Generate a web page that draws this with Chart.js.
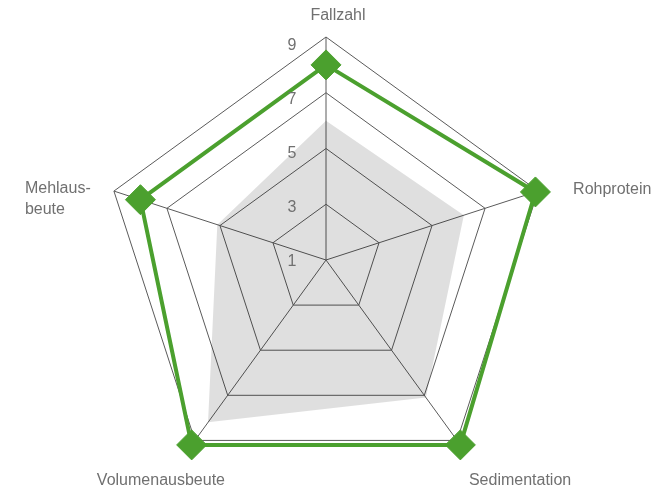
<!DOCTYPE html>
<html>
<head>
<meta charset="utf-8">
<script src="https://cdn.jsdelivr.net/npm/chart.js@4/dist/chart.umd.min.js"></script>
<style>
  body { margin: 0; background: #fff; }
  canvas { display: block; }
</style>
</head>
<body>
<canvas id="radar" width="668" height="492"></canvas>
<script>
// axes (clockwise from top)
const CATEGORIES = ["Fallzahl", "Rohprotein", "Sedimentation", "Volumenausbeute", ["Mehlaus-", "beute"]];
const GREEN_VALUES = [8, 8.9, 9.2, 9.2, 8];
const GRAY_VALUES = [6, 6.2, 7.1, 8.2, 5.1];
const TICK_VALUES = [1, 3, 5, 7, 9];

const GREEN = '#4ba02e';
const GRID = '#5a5a5a';
const TEXT = '#707070';
const FONT = '16px "Liberation Sans", Arial, sans-serif';

// where each axis title sits, relative to the outer corner of that axis
const LABEL_OFFSETS = [
    {dx: 12, dy: -21, align: 'center'},
    {dx: 35, dy: -1, align: 'left'},
    {dx: 63, dy: 40, align: 'center'},
    {dx: -34, dy: 40, align: 'center'},
    {dx: -89, dy: -2, align: 'left'}
];

// draws tick numbers and axis titles ourselves (chart.js only centers them)
const labelPlugin = {
    id: 'labels',
    afterDraw(chart) {
        const scale = chart.scales.r;
        const ctx = chart.ctx;
        ctx.save();
        ctx.font = FONT;
        ctx.fillStyle = TEXT;
        ctx.textBaseline = 'middle';

        ctx.textAlign = 'center';
        for (let i = 0; i < TICK_VALUES.length; i++) {
            const d = scale.getDistanceFromCenterForValue(TICK_VALUES[i]);
            ctx.fillText(String(TICK_VALUES[i]), scale.xCenter - 34, scale.yCenter + 2 - d * 0.972);
        }

        for (let i = 0; i < CATEGORIES.length; i++) {
            const p = scale.getPointPosition(i, scale.drawingArea);
            const off = LABEL_OFFSETS[i];
            ctx.textAlign = off.align;
            const lines = Array.isArray(CATEGORIES[i]) ? CATEGORIES[i] : [CATEGORIES[i]];
            for (let j = 0; j < lines.length; j++) {
                ctx.fillText(lines[j], p.x + off.dx, p.y + off.dy + j * 21);
            }
        }
        ctx.restore();
    }
};

const chart = new Chart(document.getElementById('radar').getContext('2d'), {
    type: 'radar',
    data: {
        labels: CATEGORIES,
        datasets: [
            {
                data: GREEN_VALUES,
                borderColor: GREEN,
                borderWidth: 4,
                fill: false,
                pointStyle: 'rectRot',
                pointRadius: 15,
                pointBackgroundColor: GREEN,
                pointBorderColor: GREEN,
                pointBorderWidth: 1,
                clip: false
            },
            {
                data: GRAY_VALUES,
                borderWidth: 0,
                borderColor: 'rgba(0,0,0,0)',
                backgroundColor: 'rgba(0,0,0,0.125)',
                fill: true,
                pointRadius: 0
            }
        ]
    },
    options: {
        responsive: false,
        animation: false,
        layout: {
            padding: {top: 37, bottom: 9, left: 100, right: 116}
        },
        plugins: {
            legend: {display: false},
            tooltip: {enabled: false}
        },
        scales: {
            r: {
                min: 1,
                max: 9,
                beginAtZero: false,
                ticks: {stepSize: 2, display: false},
                grid: {color: GRID, lineWidth: 1},
                angleLines: {color: GRID, lineWidth: 1},
                pointLabels: {display: false}
            }
        }
    },
    plugins: [labelPlugin]
});
</script>
</body>
</html>
